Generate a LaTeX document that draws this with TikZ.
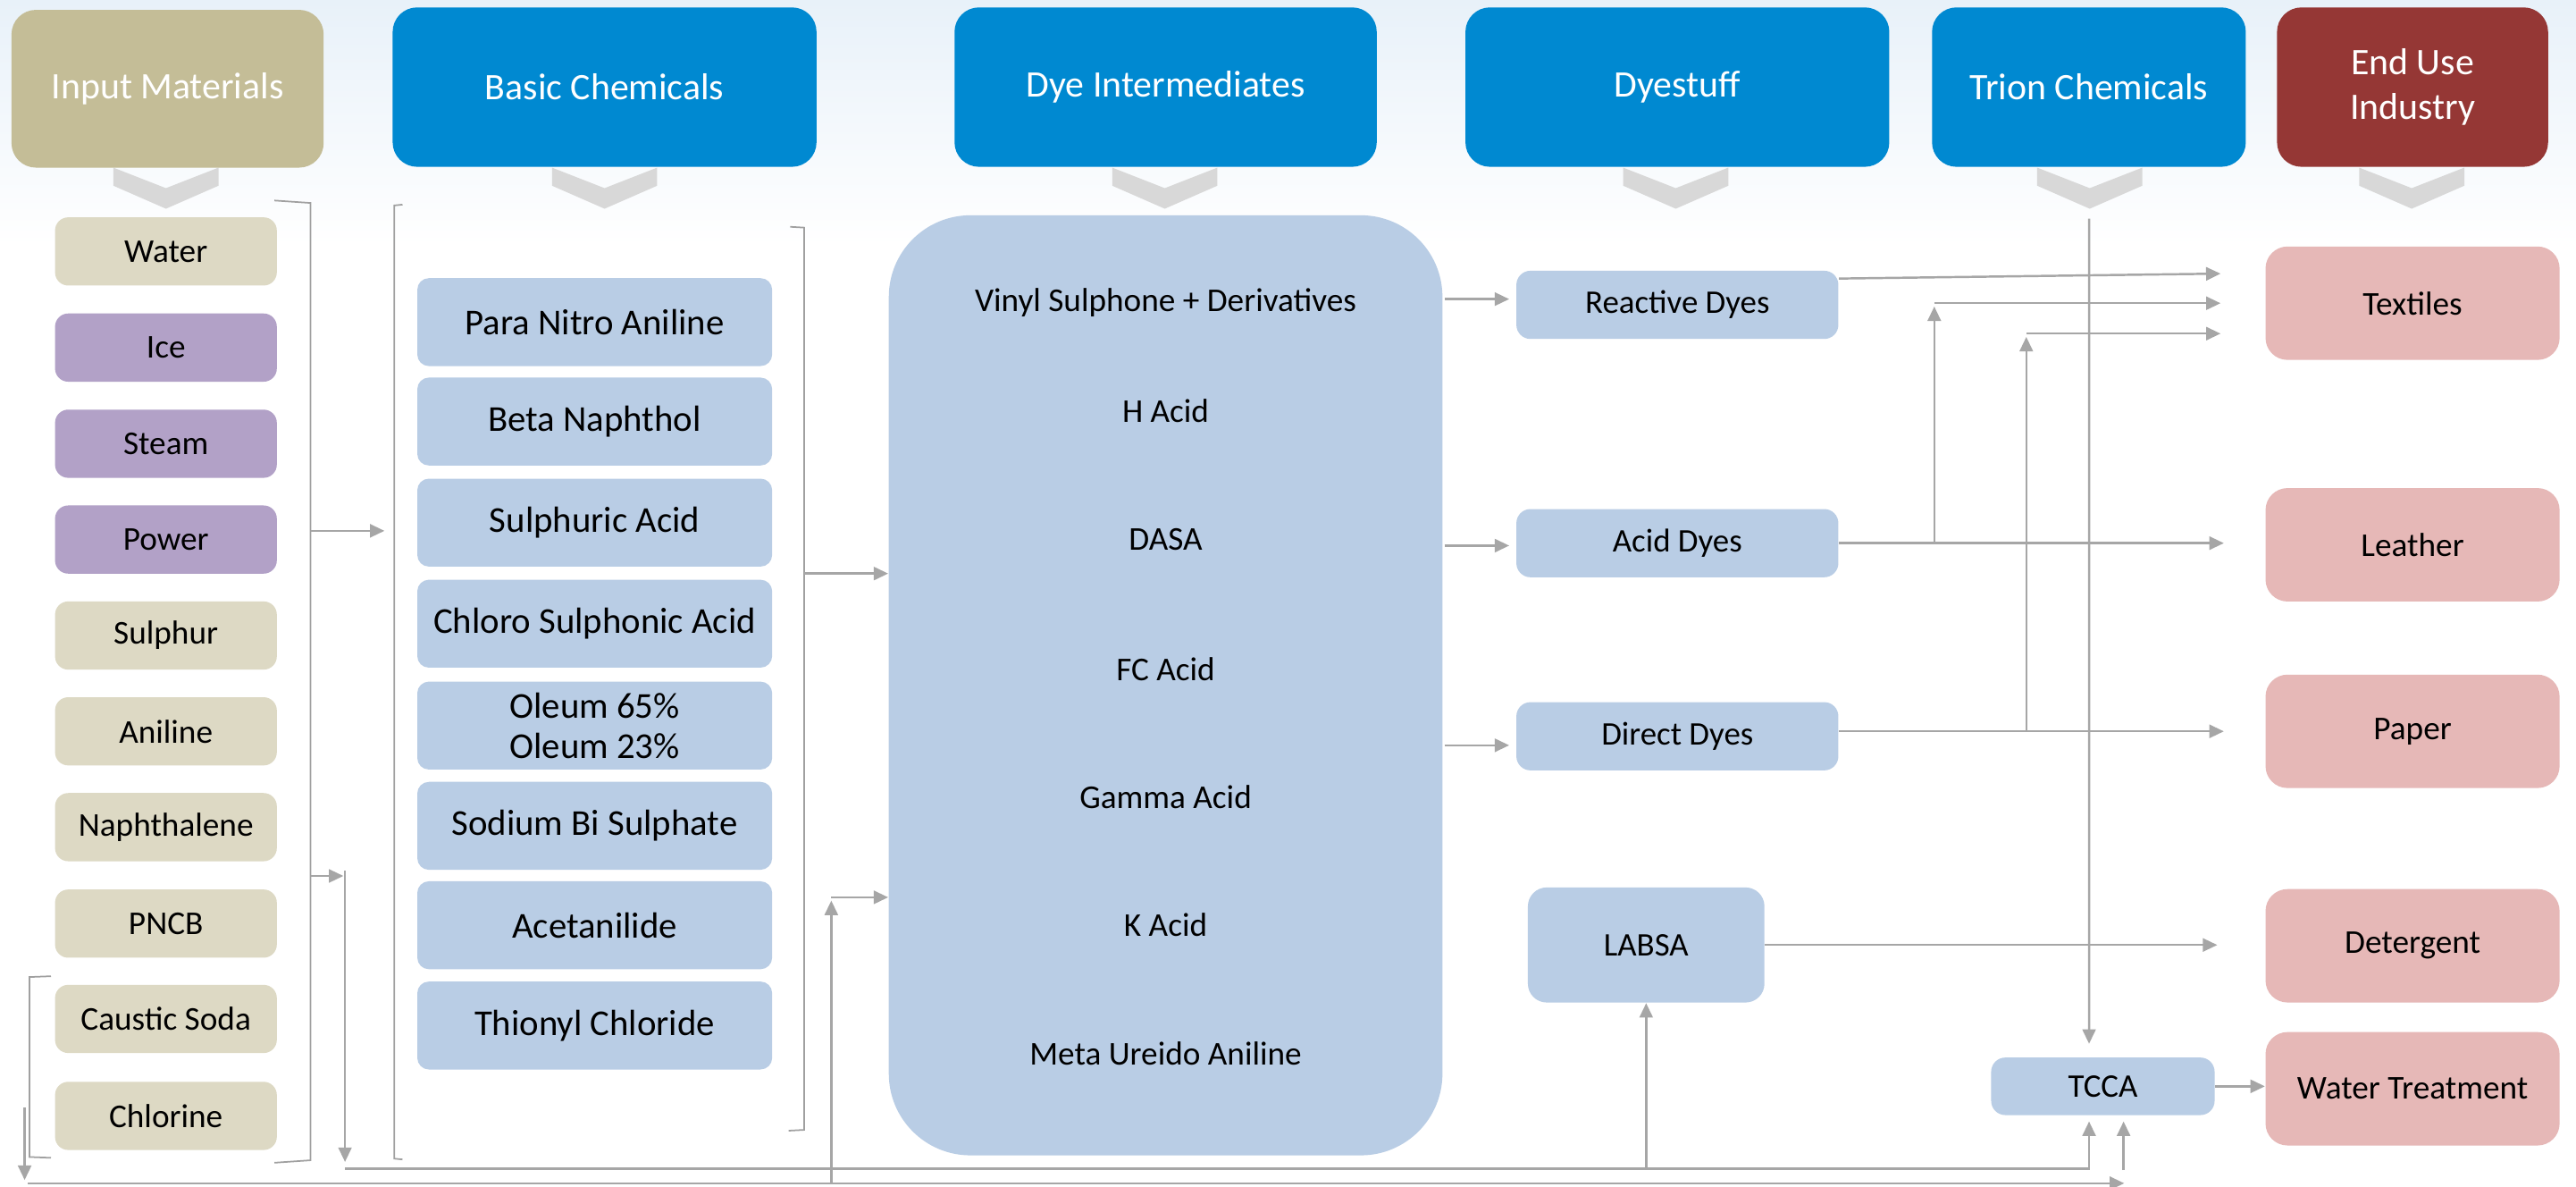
\documentclass[tikz,border=0pt]{standalone}
\usepackage{fontspec}
\setmainfont{Carlito}
\usetikzlibrary{arrows.meta,calc}
\definecolor{hblue}{RGB}{0,137,209}
\definecolor{tanh}{RGB}{196,189,151}
\definecolor{dred}{RGB}{149,55,53}
\definecolor{tanl}{RGB}{221,217,196}
\definecolor{purp}{RGB}{178,161,199}
\definecolor{lblue}{RGB}{185,205,229}
\definecolor{pinkc}{RGB}{230,184,183}
\definecolor{lgray}{RGB}{166,166,166}
\definecolor{bgray}{RGB}{160,160,160}
\definecolor{chevc}{RGB}{216,216,216}
\definecolor{bgtop}{RGB}{232,241,249}
\tikzset{
 sz/.style 2 args={minimum width={(#1)*0.018386cm}, minimum height={(#2)*0.018386cm}},
 hdr/.style={fill=hblue, rounded corners=7.8pt, text=white, font=\fontsize{11.9}{14.2}\selectfont, align=center, inner sep=0pt, sz={258}{97}},
 ibox/.style={fill=tanl, rounded corners=4.2pt, inner sep=0pt, font=\fontsize{10.6}{12}\selectfont, sz={135}{41.5}},
 pbox/.style={ibox, fill=purp},
 bbox/.style={fill=lblue, rounded corners=3.7pt, inner sep=0pt, align=center, font=\fontsize{11.6}{12.8}\selectfont, sz={216}{53.5}},
 dbox/.style={fill=lblue, rounded corners=4.5pt, inner sep=0pt, font=\fontsize{10.5}{12}\selectfont, sz={196}{41.5}},
 ebox/.style={fill=pinkc, rounded corners=7pt, inner sep=0pt, font=\fontsize{10.6}{12}\selectfont, sz={179}{69}},
 itxt/.style={font=\fontsize{10.6}{12}\selectfont, inner sep=0pt},
 con/.style={draw=lgray, line width=0.7pt},
 arr/.style={con, -{Triangle[length=4.6pt,width=4.2pt]}},
 brk/.style={draw=bgray, line width=0.5pt},
}
\begin{document}
\begin{tikzpicture}[x=0.018386cm,y=-0.018386cm]
\useasboundingbox (0,0) rectangle (1568,722);
\fill[white] (0,0) rectangle (1568,722);
\shade[top color=bgtop, bottom color=white] (0,0) rectangle (1568,150);

% chevrons
\foreach \cx in {101,368,709,1020,1272,1468}{
  \fill[chevc] (\cx-32,102) -- (\cx,114.5) -- (\cx+32,102) -- (\cx+32,113) -- (\cx,127) -- (\cx-32,113) -- cycle;
}

% headers
\node[hdr, fill=tanh, sz={190}{96}] (inhdr) at (102,54) {Input Materials};
\node[hdr] (bchdr) at (368,53) {Basic Chemicals};
\node[hdr, sz={257}{97}] (dihdr) at (709.5,53) {Dye Intermediates};
\node[hdr] (dshdr) at (1021,53) {Dyestuff};
\node[hdr, sz={191}{97}] (trhdr) at (1271.5,53) {Trion Chemicals};
\node[hdr, fill=dred, sz={165}{97}] (euhdr) at (1468.5,53) {End Use\\Industry};

% input materials
\node[ibox] (water) at (101,153) {Water};
\node[pbox] (ice) at (101,211.5) {Ice};
\node[pbox] (steam) at (101,270) {Steam};
\node[pbox] (power) at (101,328.3) {Power};
\node[ibox] (sulphur) at (101,386.7) {Sulphur};
\node[ibox] (aniline) at (101,445) {Aniline};
\node[ibox] (naph) at (101,503.3) {Naphthalene};
\node[ibox] (pncb) at (101,562) {PNCB};
\node[ibox] (caustic) at (101,620) {Caustic Soda};
\node[ibox] (chlorine) at (101,679) {Chlorine};

% basic chemicals
\node[bbox] (pna) at (362,196) {Para Nitro Aniline};
\node[bbox] (beta) at (362,256.5) {Beta Naphthol};
\node[bbox] (sulac) at (362,318) {Sulphuric Acid};
\node[bbox] (chloro) at (362,379.5) {Chloro Sulphonic Acid};
\node[bbox] (oleum) at (362,441.5) {Oleum 65\%\\Oleum 23\%};
\node[bbox] (sodium) at (362,502.5) {Sodium Bi Sulphate};
\node[bbox] (acet) at (362,563) {Acetanilide};
\node[bbox] (thionyl) at (362,624) {Thionyl Chloride};

% dye intermediates
\node[fill=lblue, rounded corners=26pt, sz={337}{572}] (dye) at (709.5,417) {};
\node[itxt] (vs) at (709.5,184) {Vinyl Sulphone + Derivatives};
\node[itxt] (hac) at (709.5,250) {H Acid};
\node[itxt] (dasa) at (709.5,328) {DASA};
\node[itxt] (fca) at (709.5,407) {FC Acid};
\node[itxt] (gam) at (709.5,485) {Gamma Acid};
\node[itxt] (kac) at (709.5,563) {K Acid};
\node[itxt] (mua) at (709.5,641) {Meta Ureido Aniline};

% dyestuff / trion
\node[dbox] (reactive) at (1021,185.5) {Reactive Dyes};
\node[dbox] (acid) at (1021,330.5) {Acid Dyes};
\node[dbox] (direct) at (1021,448) {Direct Dyes};
\node[dbox, rounded corners=6pt, sz={144}{70}] (labsa) at (1002,575) {LABSA};
\node[dbox, sz={136}{35}] (tcca) at (1280,661) {TCCA};

% end use
\node[ebox] (textiles) at (1468.5,184.5) {Textiles};
\node[ebox] (leather) at (1468.5,331.5) {Leather};
\node[ebox] (paper) at (1468.5,445) {Paper};
\node[ebox] (detergent) at (1468.5,575.5) {Detergent};
\node[ebox] (wt) at (1468.5,662.5) {Water Treatment};

% brackets
\draw[brk] (167,122) -- (189,123.5) -- (189,706) -- (167,707.5);
\draw[brk] (245,124.5) -- (240,125) -- (240,705) -- (245,705.5);
\draw[brk] (481,138) -- (489.5,138.5) -- (489.5,687.5) -- (480,688);
\draw[brk] (31,594) -- (18,594.5) -- (18,704) -- (31,704.5);

\coordinate (ib) at (189,323);
\coordinate (bl) at (240,323);
\coordinate (br) at (489.5,349);
\coordinate (ib2) at (189,533);
\coordinate (v1) at (209,533);
\coordinate (v1top) at (210,530);
\coordinate (v1bot) at (210,707);
\coordinate (h1) at (210,711);
\coordinate (cbt) at (15,674);
\coordinate (cbb) at (15,718);
\coordinate (h2) at (17,720);
\coordinate (h2e) at (1293,720);
\coordinate (kc) at (506,546);
\coordinate (tr) at (1271.6,133);

% connectors left part
\draw[arr] (ib) -- ($(bl)+(-6,0)$);
\draw[arr] (br) -- (br -| dye.west);
\draw[arr] (ib2) -- (v1);
\draw[arr] (v1top) -- (v1bot);
\coordinate (tin1) at ($(tcca.south)+(-8.4,3.5)$);
\coordinate (tin2) at ($(tcca.south)+(12.6,3.5)$);
\draw[arr] (h1) -| (tin1);
\draw[arr] (labsa.south |- h1) -- (labsa.south);
\draw[arr] (cbt) -- (cbb);
\draw[arr] (h2) -- (h2e);
\draw[arr] ($(tin2 |- h2)+(0,-8)$) -- (tin2);
\draw[arr] (kc |- h2) -- ($(kc)+(0,2)$);
\draw[arr] (kc) -- (kc -| dye.west);

% dye intermediates to dyes
\draw[arr] ($(dye.east |- reactive.west)+(1,-3.5)$) -- ($(reactive.west)+(-4,-3.5)$);
\draw[arr] ($(dye.east |- acid.west)+(1,1.5)$) -- ($(acid.west)+(-4,1.5)$);
\draw[arr] ($(dye.east |- direct.west)+(1,5.5)$) -- ($(direct.west)+(-4,5.5)$);

% dyes to end use
\draw[arr] ($(reactive.east)+(0,-16)$) -- ($(textiles.west)+(-27,-18)$);
\draw[arr] (acid.east) -- ($(acid.east -| leather.west)+(-25,0)$);
\coordinate (j1) at ($(acid.east)+(58,0)$);
\coordinate (t2) at ($(textiles.west)+(-27,0)$);
\coordinate (c1) at (j1 |- t2);
\draw[arr] (j1) -- ($(c1)+(0,2)$);
\draw[arr] (c1) -- (t2);
\coordinate (dd) at ($(direct.east)+(0,-3)$);
\draw[arr] (dd) -- ($(dd -| paper.west)+(-25,0)$);
\coordinate (j2) at ($(dd)+(114,0)$);
\coordinate (t3) at ($(textiles.west)+(-27,18.5)$);
\coordinate (c2) at (j2 |- t3);
\draw[arr] (j2) -- ($(c2)+(0,2)$);
\draw[arr] (c2) -- (t3);
\draw[arr] (tr) -- ($(tcca.north)+(-8.4,-8)$);
\draw[arr] (labsa.east) -- ($(labsa.east -| detergent.west)+(-29,0)$);
\draw[arr] (tcca.east) -- (tcca.east -| wt.west);
\end{tikzpicture}
\end{document}
